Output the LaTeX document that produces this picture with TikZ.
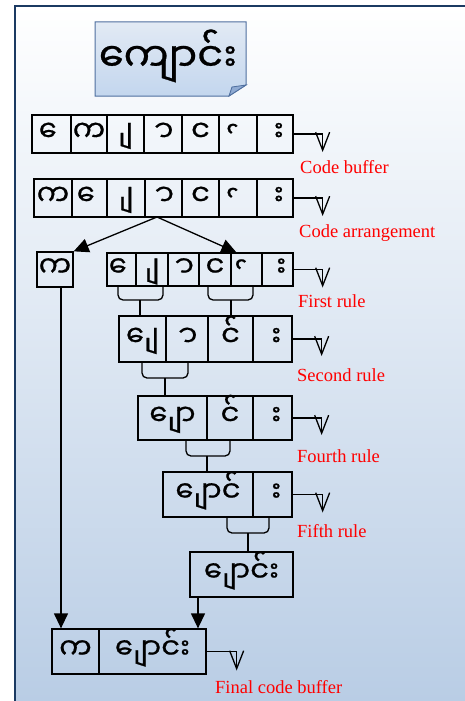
\documentclass[tikz,border=0pt]{standalone}
\usepackage{fontspec}
\setmainfont{Liberation Serif}
\newfontfamily\mfontfam[Script=Myanmar, FakeBold=0.7]{Noto Sans Myanmar UI}
\usetikzlibrary{arrows.meta}
\definecolor{navy}{HTML}{1B3A62}
\definecolor{bgblue}{HTML}{B9CDE5}
\definecolor{ttop}{HTML}{E2EAF4}
\definecolor{tbot}{HTML}{C3D6EE}
\definecolor{tedge}{HTML}{4F6F9F}
\definecolor{flap}{HTML}{8FAAD2}
\newcommand\mfont{\mfontfam\fontsize{29}{29}\selectfont}
\newlength\nbw
\newcommand\cel[6]{\node[box, minimum width={(#3-#2)*1pt}, minimum height={(#5-#4)*1pt}] (#1) at ({(#2+#3)/2},{(#4+#5)/2}) {#6};}
\newcommand\brc[4]{\draw[brc] (#1,#3) -- (#1,#4) -- (#2,#4) -- (#2,#3);}
\newcommand\mE{\hspace*{\nbw}^^^^00a0ေ}
\newcommand\mY{^^^^00a0ျ\hspace*{\nbw}}
\newcommand\mA{^^^^00a0ာ\hspace*{\nbw}}
\newcommand\mT{\raisebox{-13pt}{^^^^00a0်}}
\newcommand\mV{^^^^00a0း\hspace*{\nbw}}
\begin{document}
\begin{tikzpicture}[x=1pt,y=-1pt,
  box/.style={draw=black, line width=1.3pt, inner sep=0pt, text height=14.5pt, text depth=0pt, font=\mfont},
  lab/.style={text=red, font=\fontsize{18.5}{20}\selectfont, anchor=base west, inner sep=0pt},
  elbow/.style={draw=black, line width=1.3pt, -{Straight Barb[length=18pt,width=14pt,line width=1.3pt]}},
  arr/.style={draw=black, line width=1.3pt, -{Triangle[length=15pt,width=14pt]}},
  brc/.style={draw=black, line width=1.3pt, rounded corners=5pt},
  stem/.style={draw=black, line width=1.3pt}]
\settowidth{\nbw}{\mfont ^^^^00a0}
\useasboundingbox (0,0) rectangle (464,701);
% background and frame
\shade[top color=white, bottom color=bgblue] (15,6) rectangle (470,701);
\draw[navy, line width=2pt] (15,701) -- (15,6) -- (470,6);
% title note
\path[draw=tedge, line width=1pt, top color=ttop, bottom color=tbot] (95,22) -- (246,22) -- (246,85) -- (229,96) -- (95,96) -- cycle;
\draw[tedge, line width=0.8pt, fill=flap] (246,85) -- (232,87) -- (229,96) -- cycle;
\node[inner sep=0pt, text height=21pt, text depth=0pt, font=\mfontfam\fontsize{40}{40}\selectfont] (title) at (168,61) {ကျောင်း};
% row 1
\cel{r1c1}{32}{71}{115}{153}{\mE}
\cel{r1c2}{71}{107}{115}{153}{က}
\cel{r1c3}{107}{144}{115}{153}{\mY}
\cel{r1c4}{144}{182}{115}{153}{\mA}
\cel{r1c5}{182}{219}{115}{153}{င}
\cel{r1c6}{219}{257}{115}{153}{\mT}
\cel{r1c7}{257}{293}{115}{153}{\mV}
% row 2
\cel{r2c1}{34}{72}{179}{217}{က}
\cel{r2c2}{72}{107}{179}{217}{\mE}
\cel{r2c3}{107}{145}{179}{217}{\mY}
\cel{r2c4}{145}{182}{179}{217}{\mA}
\cel{r2c5}{182}{219}{179}{217}{င}
\cel{r2c6}{219}{257}{179}{217}{\mT}
\cel{r2c7}{257}{293}{179}{217}{\mV}
% row 3
\cel{r3k}{37}{73}{252}{287}{က}
\cel{r3c1}{107}{136}{253}{286}{\mE}
\cel{r3c2}{136}{168}{253}{286}{\mY}
\cel{r3c3}{168}{199}{253}{286}{\mA}
\cel{r3c4}{199}{231}{253}{286}{င}
\cel{r3c5}{231}{262}{253}{286}{\mT}
\cel{r3c6}{262}{293}{253}{286}{\mV}
% row 4
\cel{r4c1}{119}{166}{316}{362}{^^^^00a0ျေ}
\cel{r4c2}{166}{208}{316}{362}{\mA}
\cel{r4c3}{208}{253}{316}{362}{င်}
\cel{r4c4}{253}{292}{316}{362}{\mV}
% row 5
\cel{r5c1}{138}{207}{396}{440}{^^^^00a0ျော}
\cel{r5c2}{207}{253}{396}{440}{င်}
\cel{r5c3}{253}{292}{396}{440}{\mV}
% row 6
\cel{r6c1}{163}{253}{472}{517}{^^^^00a0ျောင်}
\cel{r6c2}{253}{292}{472}{517}{\mV}
% row 7
\cel{r7}{190}{293}{552}{597}{^^^^00a0ျောင်း}
% row 8
\cel{r8c1}{52}{99}{629}{674}{က}
\cel{r8c2}{99}{206}{629}{674}{^^^^00a0ျောင်း}
% split arrows
\coordinate (split) at (157,217);
\draw[arr] (split) -- (r3k.north east);
\draw[arr] (split) -- ([xshift=6pt]r3c5.north west);
% braces and stems
\brc{118}{163}{286}{300}
\brc{208}{253}{286}{300}
\draw[stem] (140,300) -- (r4c1.north -| 140,300);
\draw[stem] (231,300) -- (r4c3.north -| 231,300);
\brc{142}{188}{362}{378}
\draw[stem] (165,378) -- (r5c1.north -| 165,378);
\brc{186}{230}{440}{456}
\draw[stem] (207,456) -- (r6c1.north -| 207,456);
\brc{227}{269}{517}{533}
\draw[stem] (248,533) -- (r7.north -| 248,533);
% final arrows
\draw[arr] (r3k.south -| 61,0) -- (r8c1.north -| 61,0);
\draw[arr] (r7.south -| 198,0) -- (r8c2.north -| 198,0);
% elbow connectors
\draw[elbow] (r1c7.east) -| ++(29,18);
\draw[elbow] (r2c7.east) -| ++(29,18);
\draw[elbow] (r3c6.east) -| ++(29,18);
\draw[elbow] (r4c4.east) -| ++(29,17);
\draw[elbow] (r5c3.east) -| ++(29,17);
\draw[elbow] (r6c2.east) -| ++(30,18);
\draw[elbow] (r8c2.east) -| ++(30,19);
% labels
\node[lab] (l1) at (300,173) {Code buffer};
\node[lab] (l2) at (299,237) {Code arrangement};
\node[lab] (l3) at (298,307) {First rule};
\node[lab] (l4) at (297,381) {Second rule};
\node[lab] (l5) at (297,462) {Fourth rule};
\node[lab] (l6) at (297,537) {Fifth rule};
\node[lab] (l8) at (215,693) {Final code buffer};
\end{tikzpicture}
\end{document}
